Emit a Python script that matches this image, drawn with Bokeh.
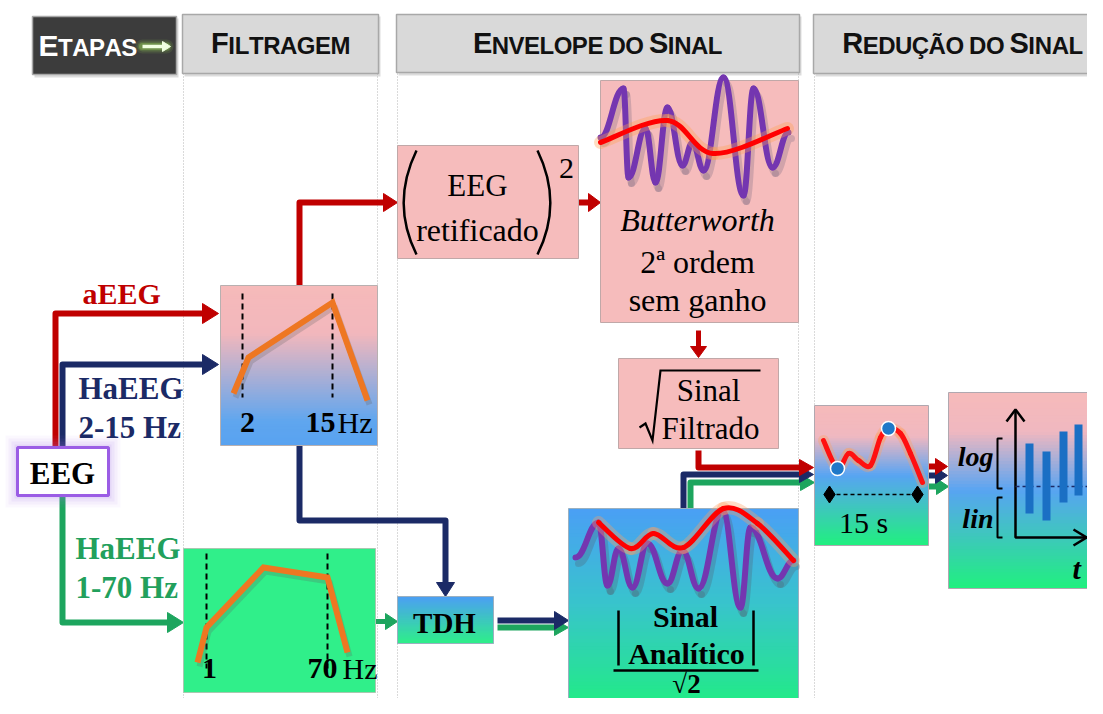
import numpy as np
from bokeh.plotting import figure
from bokeh.models import Range1d
from bokeh.core.properties import value
from bokeh.embed import file_html
from bokeh.resources import INLINE

# ---------------- values ----------------
stage_names = ["Etapas", "Filtragem", "Envelope do Sinal", "Redução do Sinal"]

branch_labels = ["aEEG", "HaEEG", "2-15 Hz", "HaEEG", "1-70 Hz"]

# band-pass sketch 2-15 Hz
bp1_x = [233, 248, 332, 367]
bp1_y = [393, 357, 302, 400]
bp1_cuts = [242, 332]
bp1_ticks = ["2", "15"]
# band-pass sketch 1-70 Hz
bp2_x = [197, 206, 263, 327, 347]
bp2_y = [662, 627, 567, 577, 652]
bp2_cuts = [206, 327]
bp2_ticks = ["1", "70"]

# Butterworth panel: EEG trace and smoothed envelope
bw_eeg_x = [600, 623, 628, 645, 655, 667, 682, 692, 703, 723, 743, 753, 772, 788]
bw_eeg_y = [137, 88, 177, 128, 182, 107, 165, 142, 170, 77, 195, 88, 167, 132]
bw_env_x = [600, 667, 713, 787]
bw_env_y = [142, 120, 153, 128]

# analytic-signal panel
an_eeg_x = [575, 598, 607, 618, 632, 647, 667, 682, 698, 722, 740, 750, 777, 793]
an_eeg_y = [557, 522, 585, 548, 587, 543, 583, 550, 588, 510, 607, 527, 578, 560]
an_env_x = [598, 630, 653, 683, 723, 757, 793]
an_env_y = [522, 548, 533, 547, 508, 523, 560]

# 15 s segment
seg_x = [823, 837, 848, 858, 870, 880, 888, 900, 910, 922]
seg_y = [440, 468, 453, 460, 465, 437, 428, 433, 453, 482]
seg_ext_idx = [1, 6]
seg_label = "15 s"

# output: one min-max bar per segment
bar_x = [1029, 1046, 1063, 1078, 1095]
bar_top = [443, 451, 431, 424, 447]
bar_bot = [513, 520, 502, 495, 517]

# ---------------- colours ----------------
RED = "#c00000"
NAVY = "#1b2a66"
GREEN = "#1da55e"
GREEN_T = "#22a05c"
ORANGE = "#ee7722"
PURPLE = "#7436b0"
PINK = "#f6bcbc"
LIME = "#30ef8a"
SERIF = value("Liberation Serif")
SANS = value("Liberation Sans")

W, H = 1087, 698
p = figure(width=W, height=H, x_range=Range1d(0, W), y_range=Range1d(H, 0),
           output_backend="svg", toolbar_location=None, min_border=0,
           x_axis_type=None, y_axis_type=None,
           background_fill_color="white", border_fill_color="white")
p.grid.visible = False
p.outline_line_color = None


def hex2rgb(h):
    return tuple(int(h[i:i + 2], 16) for i in (1, 3, 5))


def grad_box(x0, x1, y0, y1, stops, n=60, line="#b8b0b0"):
    ys = np.linspace(y0, y1, n + 1)
    cols = []
    for i in range(n):
        t = (i + 0.5) / n
        j = 0
        while j < len(stops) - 2 and t > stops[j + 1][0]:
            j += 1
        t0, c0 = stops[j]
        t1, c1 = stops[j + 1]
        f = min(max((t - t0) / (t1 - t0), 0), 1) if t1 > t0 else 0
        a, b = hex2rgb(c0), hex2rgb(c1)
        cols.append("#%02x%02x%02x" % tuple(int(round(a[k] + (b[k] - a[k]) * f)) for k in range(3)))
    bots = [min(v + 0.8, y1) for v in ys[1:]]
    p.quad(left=[x0] * n, right=[x1] * n, top=list(ys[:-1]), bottom=bots,
           fill_color=cols, line_color=None)
    p.quad(left=[x0], right=[x1], top=[y0], bottom=[y1], fill_color=None,
           line_color=line, line_width=1)


def solid_box(x0, x1, y0, y1, fill, line="#c0a8a8", lw=1):
    p.quad(left=[x0], right=[x1], top=[y0], bottom=[y1], fill_color=fill,
           line_color=line, line_width=lw)


def header_box(x0, x1, y0, y1, fill):
    p.quad(left=[x0 + 2], right=[x1 + 2], top=[y0 + 2], bottom=[y1 + 3], fill_color="#9a9a9a",
           fill_alpha=0.35, line_color=None)
    solid_box(x0, x1, y0, y1, fill, line="#a8a8a8", lw=1.5)


def path(xs, ys, color, w=6, head=16, hw=10):
    dx = xs[-1] - xs[-2]
    dy = ys[-1] - ys[-2]
    L = (dx * dx + dy * dy) ** 0.5
    ux, uy = dx / L, dy / L
    tx, ty = xs[-1], ys[-1]
    lx = list(xs[:-1]) + [tx - ux * head * 0.8]
    ly = list(ys[:-1]) + [ty - uy * head * 0.8]
    p.line(lx, ly, line_color=color, line_width=w, line_join="round")
    bx, by = tx - ux * head, ty - uy * head
    nx, ny = -uy, ux
    p.patch([tx, bx + nx * hw, bx - nx * hw], [ty, by + ny * hw, by - ny * hw],
            fill_color=color, line_color=color, line_width=1)


def wave(xs, ys, color, w, k=0.42, **kw):
    x0 = xs[:-1]; x1 = xs[1:]; y0 = ys[:-1]; y1 = ys[1:]
    cx0 = [a + (b - a) * k for a, b in zip(x0, x1)]
    cx1 = [b - (b - a) * k for a, b in zip(x0, x1)]
    p.bezier(x0=x0, y0=y0, x1=x1, y1=y1, cx0=cx0, cy0=y0, cx1=cx1, cy1=y1,
             line_color=color, line_width=w, line_cap="round", **kw)


def smooth(xs, ys, color, w, **kw):
    pts = list(zip(xs, ys))
    n = len(pts)
    d = dict(x0=[], y0=[], x1=[], y1=[], cx0=[], cy0=[], cx1=[], cy1=[])
    for i in range(n - 1):
        p0 = pts[i - 1] if i > 0 else pts[i]
        p1 = pts[i]
        p2 = pts[i + 1]
        p3 = pts[i + 2] if i + 2 < n else pts[i + 1]
        d["x0"].append(p1[0]); d["y0"].append(p1[1])
        d["x1"].append(p2[0]); d["y1"].append(p2[1])
        d["cx0"].append(p1[0] + (p2[0] - p0[0]) / 6); d["cy0"].append(p1[1] + (p2[1] - p0[1]) / 6)
        d["cx1"].append(p2[0] - (p3[0] - p1[0]) / 6); d["cy1"].append(p2[1] - (p3[1] - p1[1]) / 6)
    p.bezier(line_color=color, line_width=w, line_cap="round", **d, **kw)


def txt(x, base, s, size, color="black", style="normal", font=SERIF, align="center"):
    # place by desired alphabetic baseline, drawn with a 'middle' baseline
    k = 0.3375 if font == SERIF else 0.3465
    p.text(x=[x], y=[base - k * size], text=[s], text_font=font, text_font_size=f"{size}px",
           text_font_style=style, text_color=color, text_align=align, text_baseline="middle")


CAPW = {"A": .722, "C": .722, "D": .722, "E": .667, "F": .611, "G": .778, "I": .278,
        "L": .611, "M": .833, "N": .722, "O": .778, "P": .667, "R": .722, "S": .667,
        "T": .611, "U": .722, "V": .667, "Ç": .722, "Ã": .722, " ": .24}


def smallcaps(x, base, s, big, small, color, center=True):
    items = []
    for ch in s:
        sz = big if ch.isupper() else small
        items.append((ch.upper(), sz))
    widths = [CAPW.get(c, .7) * sz * 0.97 for c, sz in items]
    total = sum(widths)
    cur = x - total / 2 if center else x
    bx, bt, sx, st = [], [], [], []
    for (c, sz), w in zip(items, widths):
        if c != " ":
            if sz == big:
                bx.append(cur); bt.append(c)
            else:
                sx.append(cur); st.append(c)
        cur += w
    for xs_, ts_, sz in [(bx, bt, big), (sx, st, small)]:
        p.text(x=xs_, y=[base - 0.3465 * sz] * len(xs_), text=ts_, text_font=SANS,
               text_font_size=f"{sz}px", text_font_style="bold", text_color=color,
               text_align="left", text_baseline="middle")


# ---------------- stage columns ----------------
for xv in [183, 377, 397, 798, 814]:
    p.line([xv, xv], [73, 720], line_color="#b5b5b5", line_width=1, line_dash="1 2")

header_box(32, 176, 16, 74, "#3c3c3c")
header_box(182, 378, 14, 73, "#d9d9d9")
header_box(396, 799, 14, 72, "#d9d9d9")
header_box(813, 1120, 14, 73, "#d9d9d9")

smallcaps(38, 55, stage_names[0], 30, 24, "white", center=False)
for wg, al in [(14, 0.12), (10, 0.2), (7, 0.3)]:
    p.line([142, 166], [46, 46], line_color="#9ee05a", line_width=wg, line_alpha=al, line_cap="round")
path([142, 170], [46, 46], "#f0ffe0", w=3.5, head=8, hw=5)
smallcaps(280, 53, stage_names[1], 29, 24, "#111111")
smallcaps(597, 53, stage_names[2], 29, 24, "#111111")
smallcaps(962, 53, stage_names[3], 29, 24, "#111111")

# ---------------- connectors ----------------
path([55, 55, 218], [447, 313, 313], RED)
path([62, 62, 218], [447, 364, 364], NAVY)
path([62, 62, 183], [495, 622, 622], GREEN)
path([299, 299, 397], [285, 202, 202], RED, head=14, hw=9)
path([299, 299, 445, 445], [445, 520, 520, 596], NAVY, head=14, hw=9)
path([375, 397], [621, 621], GREEN, w=5, head=12, hw=8)
path([578, 600], [202, 202], RED, w=6, head=12, hw=9)
path([698, 698], [330, 357], RED, w=5, head=11, hw=8)
path([497, 568], [627, 627], GREEN, w=6, head=14, hw=8)
path([497, 568], [620, 620], NAVY, w=6, head=14, hw=9)
path([690, 690, 814], [508, 482, 482], GREEN, w=6, head=14, hw=8)
path([683, 683, 813], [508, 474, 474], NAVY, w=6, head=14, hw=8)
path([698, 698, 813], [450, 467, 467], RED, w=6, head=14, hw=8)
path([928, 948], [486, 486], GREEN, w=6, head=12, hw=8)
path([928, 947], [475, 475], NAVY, w=6, head=12, hw=8)
path([928, 947], [466, 466], RED, w=6, head=12, hw=8)

# ---------------- EEG source box ----------------
for g, al in [(12, 0.05), (9, 0.07), (6, 0.09), (3, 0.12)]:
    p.quad(left=[17 - g], right=[108 + g], top=[447 - g], bottom=[495 + g],
           fill_color="#a77be8", fill_alpha=al, line_color=None)
solid_box(17, 108, 447, 495, "white", line="#9b5de5", lw=3)
txt(62, 483, "EEG", 31, style="bold")

txt(82, 303, branch_labels[0], 30, RED, "bold", align="left")
txt(78, 398, branch_labels[1], 31, NAVY, "bold", align="left")
txt(78, 437, branch_labels[2], 31, NAVY, "bold", align="left")
txt(75, 558, branch_labels[3], 31, GREEN_T, "bold", align="left")
txt(75, 597, branch_labels[4], 31, GREEN_T, "bold", align="left")

# ---------------- filter boxes ----------------
grad_box(220, 377, 285, 445, [(0, "#f6baba"), (0.3, "#f2b7bc"), (0.85, "#5fa6ef"), (1, "#58a2f0")])
for cx in bp1_cuts:
    p.line([cx, cx], [293, 397], line_color="black", line_width=2, line_dash="6 4")
p.line([v + 2 for v in bp1_x], [v + 4 for v in bp1_y], line_color="#606060", line_alpha=0.25, line_width=6)
p.line(bp1_x, bp1_y, line_color=ORANGE, line_width=6, line_join="miter")
txt(247, 432, bp1_ticks[0], 30, style="bold")
txt(320, 432, bp1_ticks[1], 30, style="bold")
txt(337, 432, "Hz", 30, align="left")

solid_box(183, 375, 548, 692, LIME, line="#a8c8b0")
for cx in bp2_cuts:
    p.line([cx, cx], [553, 668], line_color="black", line_width=2, line_dash="6 4")
p.line([v + 2 for v in bp2_x], [v + 4 for v in bp2_y], line_color="#606060", line_alpha=0.25, line_width=6)
p.line(bp2_x, bp2_y, line_color=ORANGE, line_width=6, line_join="miter")
txt(209, 678, bp2_ticks[0], 30, style="bold")
txt(322, 678, bp2_ticks[1], 30, style="bold")
txt(342, 678, "Hz", 30, align="left")

# ---------------- envelope column ----------------
solid_box(397, 578, 145, 258, PINK)
p.bezier(x0=[416], y0=[150], x1=[416], y1=[254], cx0=[399], cy0=[185], cx1=[399], cy1=[220],
         line_color="black", line_width=2.5)
p.bezier(x0=[537], y0=[150], x1=[537], y1=[254], cx0=[554], cy0=[185], cx1=[554], cy1=[220],
         line_color="black", line_width=2.5)
txt(477, 195, "EEG", 31)
txt(477, 240, "retificado", 32)
txt(566, 178, "2", 30)

solid_box(600, 798, 80, 322, PINK)
wave([v + 3 for v in bw_eeg_x], [v + 6 for v in bw_eeg_y], "#7a6a80", 7, line_alpha=0.3)
wave(bw_eeg_x, bw_eeg_y, PURPLE, 6)
smooth(bw_env_x, bw_env_y, "#ffa050", 13, line_alpha=0.35)
smooth(bw_env_x, bw_env_y, "#ff0000", 5)
txt(697, 230, "Butterworth", 32, style="italic")
txt(697, 272, "2ª ordem", 32)
txt(697, 310, "sem ganho", 32)

solid_box(618, 778, 358, 448, PINK)
p.line([639, 645, 652, 660, 760], [427, 423, 440, 370, 370], line_color="black", line_width=2.2,
       line_join="miter")
txt(708, 400, "Sinal", 31)
txt(710, 438, "Filtrado", 31)

grad_box(397, 493, 596, 643, [(0, "#4c9ef4"), (1, "#2ef088")], line="#9ab0c0")
txt(444, 632, "TDH", 29, style="bold")

grad_box(568, 798, 508, 720, [(0, "#4a9ff5"), (0.45, "#38c4cc"), (1, "#1ef27a")], line="#9ab0c0")
wave([v + 3 for v in an_eeg_x], [v + 6 for v in an_eeg_y], "#506070", 7, line_alpha=0.3)
wave(an_eeg_x, an_eeg_y, PURPLE, 6)
smooth(an_env_x, an_env_y, "#ffa060", 13, line_alpha=0.35)
smooth(an_env_x, an_env_y, "#ff0000", 5)
txt(685, 626, "Sinal", 30, style="bold")
txt(686, 663, "Analítico", 30, style="bold")
p.line([618, 618], [610, 665], line_color="black", line_width=2.5)
p.line([753, 753], [610, 665], line_color="black", line_width=2.5)
p.line([613, 758], [670, 670], line_color="black", line_width=2.5)
txt(686, 693, "√2", 27, style="bold")

# ---------------- reduction column ----------------
grad_box(814, 928, 405, 545, [(0, "#f6baba"), (0.22, "#f0b8c0"), (0.5, "#58a4f2"), (1, "#20f07e")],
         line="#b0a8b0")
smooth(seg_x, seg_y, "#ffa060", 11, line_alpha=0.35)
smooth(seg_x, seg_y, "#ff1010", 5)
p.scatter([seg_x[i] for i in seg_ext_idx], [seg_y[i] for i in seg_ext_idx], marker="circle", size=14,
          fill_color="#1f78c8", line_color="white", line_width=1.5)
p.line([829, 917], [494, 494], line_color="black", line_width=1.5, line_dash="4 3")
p.scatter([829, 917], [494, 494], marker="diamond", size=17, fill_color="black", line_color="black")
txt(863, 532, seg_label, 30)

grad_box(948, 1120, 392, 588, [(0, "#f6baba"), (0.2, "#f0b8c0"), (0.5, "#58a4f2"), (1, "#20f07e")],
         line="#b0a8b0")
p.line([1015, 1015, 1110], [410, 537, 537], line_color="black", line_width=2.5)
p.line([1006, 1015, 1024], [421, 409, 421], line_color="black", line_width=2.5)
p.line([1073, 1086, 1073], [529, 537, 545], line_color="black", line_width=2.5)
p.line([1015, 1110], [486, 486], line_color="#1b2a66", line_width=1.5, line_dash="4 3")
p.vbar(x=bar_x, width=8, top=bar_top, bottom=bar_bot, fill_color="#1a6fc4", line_color=None)
p.line([1002, 997, 997, 1002], [438, 438, 488, 488], line_color="black", line_width=2)
p.line([1002, 997, 997, 1002], [497, 497, 537, 537], line_color="black", line_width=2)
txt(993, 465, "log", 28, style="bold italic", align="right")
txt(993, 527, "lin", 28, style="bold italic", align="right")
txt(1072, 578, "t", 30, style="bold italic", align="left")

open("out.html", "w").write(file_html(p, INLINE))
